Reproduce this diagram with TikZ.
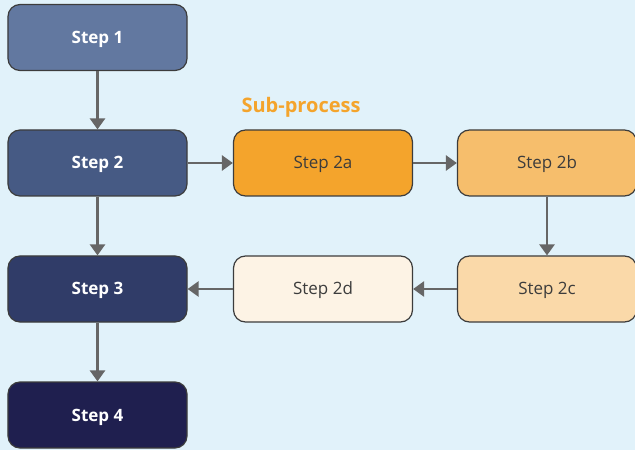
\documentclass[tikz,border=0pt]{standalone}
\usepackage{fontspec}
\setmainfont{Open Sans}
\usetikzlibrary{arrows.meta}
\definecolor{bgblue}{HTML}{E1F2FA}
\definecolor{stepa}{HTML}{6278A0}
\definecolor{stepb}{HTML}{465A84}
\definecolor{stepc}{HTML}{303C68}
\definecolor{stepd}{HTML}{1F1F4F}
\definecolor{subA}{HTML}{F4A42C}
\definecolor{subB}{HTML}{F6BE6C}
\definecolor{subC}{HTML}{FAD9A9}
\definecolor{subD}{HTML}{FDF3E5}
\definecolor{edgegray}{HTML}{3C3C3C}
\definecolor{arrowgray}{HTML}{666666}
\tikzset{
  stepbox/.style={draw=edgegray, line width=1.2bp, rounded corners=12bp,
    minimum width=179bp, minimum height=66bp, inner sep=0pt,
    text height=12bp, text depth=0bp},
  mainbox/.style={stepbox, text=white, font=\bfseries\fontsize{17bp}{20bp}\selectfont},
  subbox/.style={stepbox, text=edgegray, font=\fontsize{17bp}{20bp}\selectfont},
  flow/.style={draw=arrowgray, line width=2.6bp,
    -{Triangle[width=15bp,length=11bp]}},
}
\begin{document}
\begin{tikzpicture}[x=1bp, y=-1bp]
\fill[bgblue] (0,0) rectangle (635,450);
\useasboundingbox (0,0) rectangle (635,450);
\node[mainbox, fill=stepa] (s1) at (97.5,37.5){Step 1};
\node[mainbox, fill=stepb] (s2) at (97.5,163){Step 2};
\node[mainbox, fill=stepc] (s3) at (97.5,289){Step 3};
\node[mainbox, fill=stepd] (s4) at (97.5,415){Step 4};
\node[subbox, fill=subA] (s2a) at (323,163){Step 2a};
\node[subbox, fill=subB] (s2b) at (547,163){Step 2b};
\node[subbox, fill=subC] (s2c) at (547,289){Step 2c};
\node[subbox, fill=subD] (s2d) at (323,289){Step 2d};
\node[text=subA, font=\bfseries\fontsize{20bp}{24bp}\selectfont,
  text height=14bp, text depth=0bp, inner sep=0pt] (sub) at (301,105.5){Sub-process};
\draw[flow](s1) -- (s2);
\draw[flow](s2) -- (s3);
\draw[flow](s3) -- (s4);
\draw[flow](s2) -- (s2a);
\draw[flow](s2a) -- (s2b);
\draw[flow](s2b) -- (s2c);
\draw[flow](s2c) -- (s2d);
\draw[flow](s2d) -- (s3);

\end{tikzpicture}
\end{document}
